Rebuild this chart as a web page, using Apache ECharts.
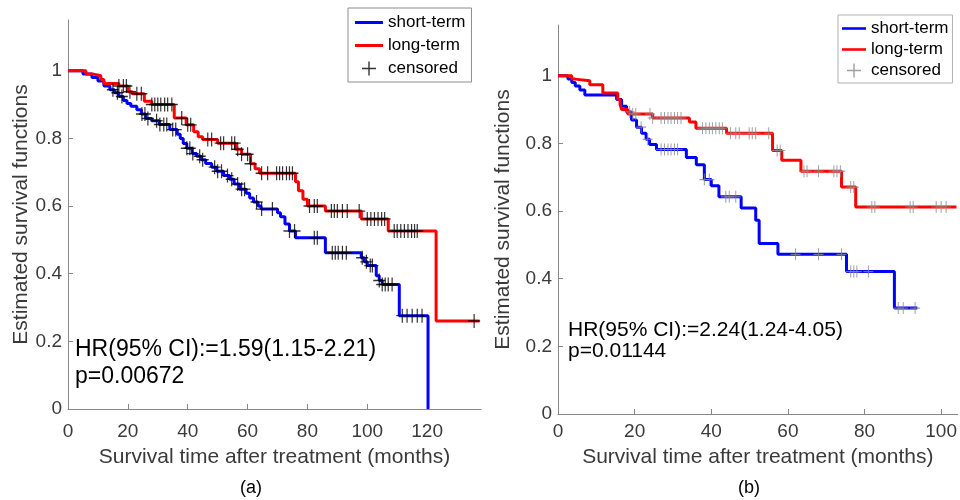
<!DOCTYPE html>
<html>
<head>
<meta charset="utf-8">
<script src="https://cdn.jsdelivr.net/npm/echarts@6/dist/echarts.min.js"></script>
<style>
  html, body { margin: 0; padding: 0; background: #fff; }
  #main { width: 960px; height: 500px; }
</style>
</head>
<body>
<div id="main"></div>
<script>
// ---- panel (a) ----
var aShortT = [0, 5, 8, 10, 12, 14, 15.5, 17, 18.5, 19.7, 21, 23, 24.5, 26, 28, 30.5, 34, 36.5, 37.5, 38.5, 39.7, 41.5, 43, 44.5, 46, 48, 49.7, 52, 54, 55.5, 57.3, 59.5, 60.7, 62, 63.5, 64.5, 70, 71, 72.5, 74, 76, 86, 98, 99, 100, 103, 104, 105, 110.7, 120.3];
var aShortS = [1, 0.99, 0.98, 0.97, 0.955, 0.944, 0.935, 0.924, 0.912, 0.903, 0.895, 0.885, 0.872, 0.859, 0.852, 0.841, 0.826, 0.812, 0.8, 0.785, 0.771, 0.755, 0.747, 0.737, 0.726, 0.715, 0.703, 0.69, 0.679, 0.665, 0.65, 0.638, 0.624, 0.612, 0.6, 0.591, 0.58, 0.568, 0.547, 0.526, 0.506, 0.462, 0.447, 0.435, 0.424, 0.394, 0.38, 0.368, 0.276, 0];
var aLongT = [0, 6, 8.5, 11, 12, 17, 20, 21.5, 25.5, 28, 35.5, 39.5, 42, 43.5, 45, 50, 56, 58, 61, 62.5, 64, 76, 77, 78.5, 80, 86, 98, 107, 123, 137.5];
var aLongS = [1, 0.99, 0.985, 0.974, 0.962, 0.955, 0.938, 0.932, 0.91, 0.9, 0.86, 0.84, 0.82, 0.805, 0.797, 0.786, 0.768, 0.753, 0.725, 0.71, 0.697, 0.672, 0.645, 0.62, 0.6, 0.585, 0.562, 0.526, 0.26, 0.26];
var aShortCens = [15, 16.5, 18, 24.7, 25.7, 26.7, 29.6, 30.7, 32, 33, 35, 36, 39.7, 40.7, 41.7, 44, 45, 49, 50, 51.3, 53.3, 54.7, 56.7, 58, 59, 63, 64.7, 68.3, 74, 75.7, 82.3, 83.3, 88.3, 89.3, 90.3, 91.7, 93, 98.3, 99.7, 101, 101.7, 104, 105, 106, 107, 108.3, 111.7, 113.3, 115, 116.7, 118.3];
var aLongCens = [17, 18.5, 19.5, 20.7, 23, 24.5, 28, 29, 30, 31, 32.3, 33.3, 34.7, 38, 40, 41, 46.7, 48, 51, 52, 54.7, 55.7, 56.7, 58, 60, 61, 64.7, 66.7, 69.7, 70.7, 71.7, 73, 74, 75, 80.7, 82.3, 83.3, 88, 89, 90, 91.7, 93.3, 97.3, 100, 101.2, 102.4, 103.6, 104.8, 105.8, 109, 110, 111.2, 112.4, 113.6, 114.8, 115.8, 116.7, 135.7];

// ---- panel (b) ----
var bShortT = [0, 2.6, 3.6, 4.5, 5.7, 7, 15.3, 16.6, 17.9, 19.2, 20.5, 21.8, 23, 23.9, 25.7, 33.5, 36.1, 38.2, 40, 42, 47.8, 51.6, 52.5, 57.4, 75.3, 87.8, 93.8];
var bShortS = [1, 0.99, 0.98, 0.97, 0.958, 0.943, 0.93, 0.91, 0.893, 0.869, 0.848, 0.83, 0.812, 0.797, 0.782, 0.758, 0.737, 0.693, 0.675, 0.642, 0.609, 0.573, 0.504, 0.472, 0.421, 0.313, 0.313];
var bLongT = [0, 3.6, 4.5, 8.3, 11.7, 15.6, 16.2, 16.6, 18.2, 24.7, 34.3, 36, 44, 56, 58.4, 63.4, 74, 77.7, 104];
var bLongS = [1, 0.99, 0.985, 0.973, 0.949, 0.93, 0.915, 0.9, 0.887, 0.875, 0.863, 0.845, 0.83, 0.779, 0.75, 0.718, 0.671, 0.612, 0.612];
var bShortCens = [18.7, 21.7, 23.4, 26.9, 27.8, 28.7, 29.5, 30.4, 31.2, 38.2, 39.5, 43.8, 44.7, 46.4, 62, 68, 74, 76.4, 77.2, 78, 81, 88.8, 90.1, 93.2];
var bLongCens = [19.5, 20.3, 24, 24.7, 26.9, 27.8, 28.7, 29.5, 30.4, 31.2, 32.1, 37.7, 38.6, 39.5, 40.3, 41.2, 42.1, 42.9, 45, 46.4, 47.3, 49.9, 50.7, 51.6, 55, 57.2, 58, 64.2, 65, 68, 72, 72.8, 73.7, 76.4, 77.2, 81.9, 82.7, 91.9, 92.7, 98.7, 100, 101.3];

var yTicks = [0, 0.2, 0.4, 0.6, 0.8, 1];
var xTicksA = [0, 20, 40, 60, 80, 100, 120];
var xTicksB = [0, 20, 40, 60, 80, 100];

var FONT = 'Liberation Sans, Arial, sans-serif';
var TXT = '#3a3a3a';
var CROSS = 'path://M5.4,0h1.2v5.4h5.4v1.2h-5.4v5.4h-1.2v-5.4h-5.4v-1.2h5.4z';
var LINEICON = 'path://M0,0h28v3h-28z';

function zip(t, s) {
    return t.map(function(v, i) { return [v, s[i]]; });
}
// value of the step function at time x
function survAt(t, s, x) {
    var v = s[0];
    for (var i = 0; i < t.length; i++) {
        if (t[i] <= x) v = s[i];
    }
    return v;
}
function censPts(cens, t, s) {
    return cens.map(function(c) { return [c, survAt(t, s, c)]; });
}

function xAxis(idx, max, ticks, gap, margin) {
    return {
        gridIndex: idx, type: 'value', min: 0, max: max,
        name: 'Survival time after treatment (months)',
        nameLocation: 'middle', nameGap: gap,
        nameTextStyle: { fontSize: 21, color: TXT, fontFamily: FONT },
        axisLine: { lineStyle: { color: '#888', width: 1 } },
        axisTick: { inside: true, length: 5, customValues: ticks, lineStyle: { color: '#888' } },
        axisLabel: { customValues: ticks, fontSize: 19, color: TXT, fontFamily: FONT, margin: margin },
        splitLine: { show: false }
    };
}
function yAxis(idx, gap) {
    return {
        gridIndex: idx, type: 'value', min: 0, max: 1.15,
        name: 'Estimated survival functions',
        nameLocation: 'middle', nameGap: gap,
        nameTextStyle: { fontSize: 21, color: TXT, fontFamily: FONT },
        axisLine: { show: true, lineStyle: { color: '#888', width: 1 } },
        axisTick: { show: true, inside: true, length: 5, customValues: yTicks, lineStyle: { color: '#888' } },
        axisLabel: { customValues: yTicks, fontSize: 19, color: TXT, fontFamily: FONT, margin: 6 },
        splitLine: { show: false }
    };
}
function stepLine(name, idx, t, s, color) {
    return {
        name: name, type: 'line', step: 'end', xAxisIndex: idx, yAxisIndex: idx,
        data: zip(t, s), symbol: 'none', color: color,
        lineStyle: { color: color, width: 3 }
    };
}
function censSeries(idx, cens, t, s, color, size) {
    return {
        name: 'censored', type: 'scatter', xAxisIndex: idx, yAxisIndex: idx,
        data: censPts(cens, t, s), symbol: CROSS, symbolSize: size,
        itemStyle: { color: color }, z: 3
    };
}
function legend(left, top, gap, pad, iw, censColor, border) {
    return {
        orient: 'vertical', left: left, top: top, padding: pad,
        itemGap: gap, itemWidth: iw, itemHeight: 14, selectedMode: false,
        backgroundColor: '#fff', borderColor: border, borderWidth: 1,
        textStyle: { fontSize: 17, color: '#000', fontFamily: FONT },
        itemStyle: { borderWidth: 0 },
        data: [
            { name: 'short-term', icon: LINEICON, itemStyle: { color: '#0000ff' } },
            { name: 'long-term', icon: LINEICON, itemStyle: { color: '#ff0000' } },
            { name: 'censored', icon: CROSS, itemStyle: { color: censColor } }
        ]
    };
}
function label(text, left, top, fs) {
    return {
        text: text, left: left, top: top, padding: 0,
        textStyle: { fontSize: fs, fontWeight: 'normal', color: '#000', fontFamily: FONT }
    };
}

var myChart = echarts.init(document.getElementById('main'));
var option = {
    animation: false,
    backgroundColor: '#fff',
    title: [
        label('HR(95% CI):=1.59(1.15-2.21)', 75, 338, 23),
        label('p=0.00672', 75, 365, 23),
        label('HR(95% CI):=2.24(1.24-4.05)', 568, 320, 21),
        label('p=0.01144', 568, 341, 21),
        label('(a)', 240, 479, 18),
        label('(b)', 738, 479, 18)
    ],
    legend: [
        legend(348, 8, 6, [6, 6, 5, 7], 28, '#000', '#8c8c8c'),
        legend(838, 15, 4, [5, 4, 4, 4], 24, '#888', '#b0b0b0')
    ],
    grid: [
        { left: 68, top: 20, width: 413, height: 389 },
        { left: 558, top: 25, width: 402, height: 389 }
    ],
    xAxis: [xAxis(0, 138, xTicksA, 38, 13), xAxis(1, 104.3, xTicksB, 33, 8)],
    yAxis: [yAxis(0, 35), yAxis(1, 44)],
    series: [
        stepLine('short-term', 0, aShortT, aShortS, '#0000ff'),
        stepLine('long-term', 0, aLongT, aLongS, '#ff0000'),
        censSeries(0, aShortCens, aShortT, aShortS, '#000', [12, 14]),
        censSeries(0, aLongCens, aLongT, aLongS, '#000', [12, 14]),
        stepLine('short-term', 1, bShortT, bShortS, '#0000ff'),
        stepLine('long-term', 1, bLongT, bLongS, '#ff0000'),
        censSeries(1, bShortCens, bShortT, bShortS, '#888', [10, 12]),
        censSeries(1, bLongCens, bLongT, bLongS, '#888', [10, 12])
    ]
};
myChart.setOption(option);
</script>
</body>
</html>
